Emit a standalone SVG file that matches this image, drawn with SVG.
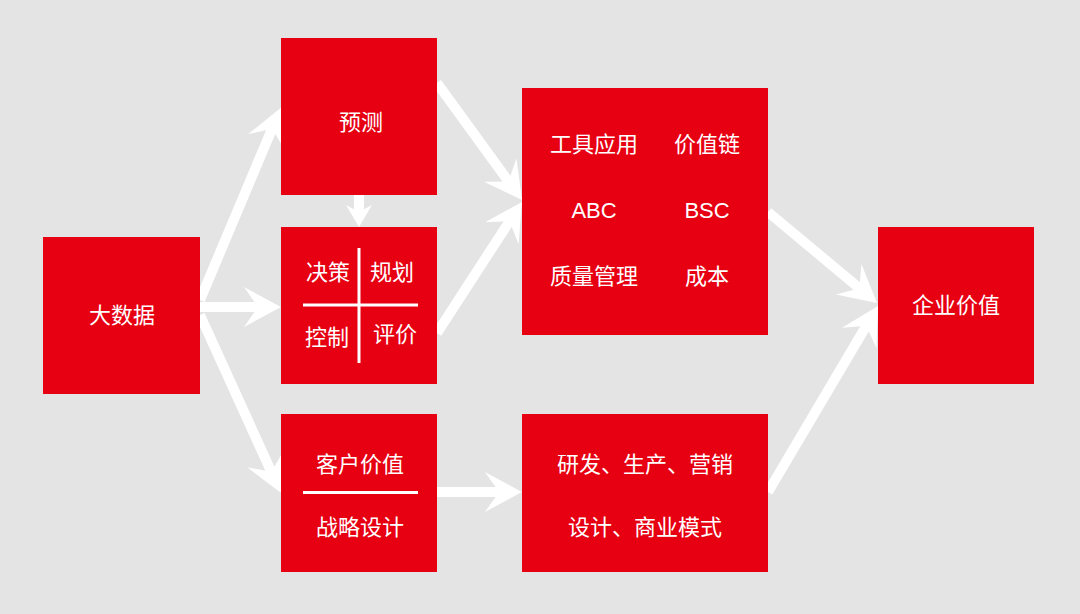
<svg xmlns="http://www.w3.org/2000/svg" width="1080" height="614" viewBox="0 0 1080 614">
  <style>
    .box { fill: #e60012; }
    .lbl { fill: #ffffff; font-family: "Liberation Sans", "Noto Sans CJK SC", sans-serif; font-size: 22px; text-anchor: middle; dominant-baseline: central; }
    .div { stroke: #ffffff; stroke-width: 3; fill: none; }
    .conn { stroke: #ffffff; stroke-width: 10; fill: none; stroke-linecap: butt; }
  </style>
  <defs>
    <marker id="head" viewBox="0 0 37 40" refX="22" refY="20" markerWidth="37" markerHeight="40" markerUnits="userSpaceOnUse" orient="auto">
      <path d="M37,20 L0,0 L14,20 L0,40 Z" fill="#ffffff"/>
    </marker>
    <marker id="headSmall" viewBox="0 0 22 26" refX="12" refY="13" markerWidth="22" markerHeight="26" markerUnits="userSpaceOnUse" orient="auto">
      <path d="M22,13 L0,0 L7,13 L0,26 Z" fill="#ffffff"/>
    </marker>
  </defs>
  <rect width="1080" height="614" fill="#e4e4e4"/>

  <g id="connectors">
    <path class="conn" d="M200,300 L275.1,121.6" marker-end="url(#head)"/>
    <path class="conn" d="M200,307 L266,307" marker-end="url(#head)"/>
    <path class="conn" d="M200,315 L274.6,479.1" marker-end="url(#head)"/>
    <path class="conn" d="M359,195 L359,217" marker-end="url(#headSmall)"/>
    <path class="conn" d="M437,83 L513.2,187.9" marker-end="url(#head)"/>
    <path class="conn" d="M437,333 L513.8,214.6" marker-end="url(#head)"/>
    <path class="conn" d="M437,492 L507,492" marker-end="url(#head)"/>
    <path class="conn" d="M768,212 L865.5,293.3" marker-end="url(#head)"/>
    <path class="conn" d="M768,492 L870.4,318.9" marker-end="url(#head)"/>
  </g>

  <g id="node-bigdata">
    <rect class="box" x="43" y="237" width="157" height="157"/>
    <text class="lbl" x="122" y="315">大数据</text>
  </g>

  <g id="node-forecast">
    <rect class="box" x="281" y="38" width="156" height="157"/>
    <text class="lbl" x="361" y="122">预测</text>
  </g>

  <g id="node-decision">
    <rect class="box" x="281" y="227" width="156" height="157"/>
    <line class="div" x1="359" y1="248" x2="359" y2="363"/>
    <line class="div" x1="303" y1="305" x2="418" y2="305"/>
    <text class="lbl" x="328" y="272">决策</text>
    <text class="lbl" x="392" y="272">规划</text>
    <text class="lbl" x="327" y="337">控制</text>
    <text class="lbl" x="395" y="334">评价</text>
  </g>

  <g id="node-customer">
    <rect class="box" x="281" y="414" width="156" height="158"/>
    <text class="lbl" x="360" y="464">客户价值</text>
    <line class="div" x1="303" y1="492.5" x2="418" y2="492.5"/>
    <text class="lbl" x="360" y="527">战略设计</text>
  </g>

  <g id="node-tools">
    <rect class="box" x="522" y="88" width="246" height="247"/>
    <text class="lbl" x="594" y="144">工具应用</text>
    <text class="lbl" x="707" y="144">价值链</text>
    <text class="lbl" x="594" y="210">ABC</text>
    <text class="lbl" x="707" y="210">BSC</text>
    <text class="lbl" x="594" y="276">质量管理</text>
    <text class="lbl" x="707" y="276">成本</text>
  </g>

  <g id="node-rd">
    <rect class="box" x="522" y="414" width="246" height="158"/>
    <text class="lbl" x="645" y="464">研发、生产、营销</text>
    <text class="lbl" x="645" y="527">设计、商业模式</text>
  </g>

  <g id="node-enterprise">
    <rect class="box" x="878" y="227" width="156" height="157"/>
    <text class="lbl" x="956" y="305">企业价值</text>
  </g>
</svg>
